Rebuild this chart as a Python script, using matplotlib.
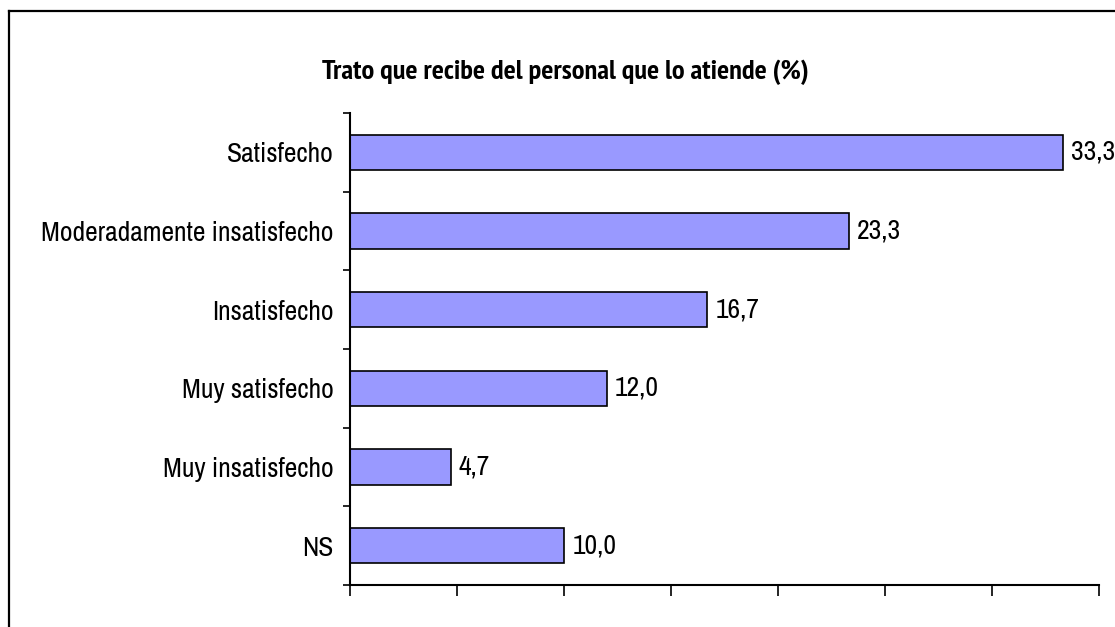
import matplotlib
matplotlib.use("Agg")
import matplotlib.pyplot as plt
from matplotlib import font_manager as fm
from matplotlib.lines import Line2D
import numpy as np

categories = ["Satisfecho", "Moderadamente insatisfecho", "Insatisfecho",
              "Muy satisfecho", "Muy insatisfecho", "NS"]
values = [33.3, 23.3, 16.7, 12.0, 4.7, 10.0]
value_labels = ["33,3", "23,3", "16,7", "12,0", "4,7", "10,0"]
title = "Trato que recibe del personal que lo atiende (%)"
x_max = 35
x_step = 5

# ---- font choice: prefer a narrow face (reference uses Arial Narrow look) ----
entries = fm.fontManager.ttflist
STRETCH_RANK = {"ultra-condensed": 1, "extra-condensed": 2, "condensed": 3,
                "semi-condensed": 4}

def stretch_rank(f):
    s = f.stretch
    if isinstance(s, (int, float)):
        return 3 if s <= 400 else (4 if s < 500 else 9)
    return STRETCH_RANK.get(str(s), 9)

def is_narrow(f):
    return ("Narrow" in f.name or "Condensed" in f.name or stretch_rank(f) < 9)

def score(f):
    pref = 0 if f.name == "Liberation Sans Narrow" else (
        1 if "Narrow" in f.name else (2 if f.name in ("Roboto", "Roboto Condensed",
                                                      "Open Sans", "Open Sans Condensed",
                                                      "Noto Sans", "Liberation Sans",
                                                      "Arimo") else 3))
    sr = stretch_rank(f)
    if "Narrow" in f.name or "Condensed" in f.name:
        sr = min(sr, 3)
    return (pref, abs(sr - 3))

def weight_num(w):
    if isinstance(w, (int, float)):
        return w
    return {"normal": 400, "regular": 400, "book": 400, "medium": 500,
            "semibold": 600, "demibold": 600, "bold": 700, "heavy": 800,
            "black": 900}.get(str(w), 400)

def pick(weight):
    cands = [f for f in entries if is_narrow(f) and f.style == "normal"
             and "Mono" not in f.name and "Serif" not in f.name
             and abs(weight_num(f.weight) - weight) <= 50]
    if not cands:
        return None
    cands.sort(key=score)
    return fm.FontProperties(fname=cands[0].fname)

fp_reg = pick(400) or fm.FontProperties(family="Liberation Sans")
fp_bold = pick(700) or fm.FontProperties(family="Liberation Sans", weight="bold")

W, H = 1115, 627
fig = plt.figure(figsize=(W / 100, H / 100), dpi=100)
fig.patch.set_facecolor("white")

# chart-area border (left and top visible)
fig.add_artist(Line2D([9 / W, 9 / W], [0, 1 - 11 / H], transform=fig.transFigure,
                      color="black", lw=1.6))
fig.add_artist(Line2D([9 / W, 1], [1 - 11 / H, 1 - 11 / H], transform=fig.transFigure,
                      color="black", lw=1.6))

ax_left, ax_right = 350 / W, 1099 / W
ax_top, ax_bottom = 1 - 113 / H, 1 - 585 / H
ax = fig.add_axes([ax_left, ax_bottom, ax_right - ax_left, ax_top - ax_bottom])

y = np.arange(len(categories))
ax.barh(y, values, height=0.45, color="#9999FF", edgecolor="black", linewidth=1.2)
ax.set_xlim(0, x_max)
ax.set_ylim(len(categories) - 0.5, -0.5)

for sp in ("top", "right"):
    ax.spines[sp].set_visible(False)
for sp in ("left", "bottom"):
    ax.spines[sp].set_linewidth(1.5)
    ax.spines[sp].set_color("black")

ax.set_xticks(np.arange(0, x_max + 0.01, x_step))
ax.set_xticklabels([])
ax.tick_params(axis="x", which="major", direction="out", length=8, width=1.2)

ax.set_yticks(np.arange(-0.5, len(categories), 1.0))
ax.set_yticklabels([])
ax.tick_params(axis="y", which="major", direction="out", length=5, width=1.2)
ax.set_yticks(y, minor=True)
ax.set_yticklabels(categories, minor=True)
ax.tick_params(axis="y", which="minor", length=0, pad=12)

vtexts = []
for yi, v, lab in zip(y, values, value_labels):
    t = ax.annotate(lab, (v, yi), xytext=(6, 0), textcoords="offset points",
                    ha="left", va="center", color="black",
                    fontproperties=fp_reg.copy())
    vtexts.append(t)

ttl = fig.text(565 / W, 1 - 79 / H, title, ha="center", va="baseline",
               color="black", fontproperties=fp_bold.copy())

ylabels = ax.get_yticklabels(minor=True)
for lab in ylabels:
    lab.set_fontproperties(fp_reg.copy())

# fit font sizes to measured widths in the reference
renderer = fig.canvas.get_renderer()

def fit(text_obj, target_px):
    text_obj.set_fontsize(20)
    w = text_obj.get_window_extent(renderer).width
    return 20 * target_px / w

ttl.set_fontsize(fit(ttl, 486))
ref = [l for l in ylabels if l.get_text() == "Moderadamente insatisfecho"][0]
lab_size = fit(ref, 293)
for lab in ylabels:
    lab.set_fontsize(lab_size)
for t in vtexts:
    t.set_fontsize(lab_size)

fig.savefig("out.png", dpi=100, facecolor="white")
